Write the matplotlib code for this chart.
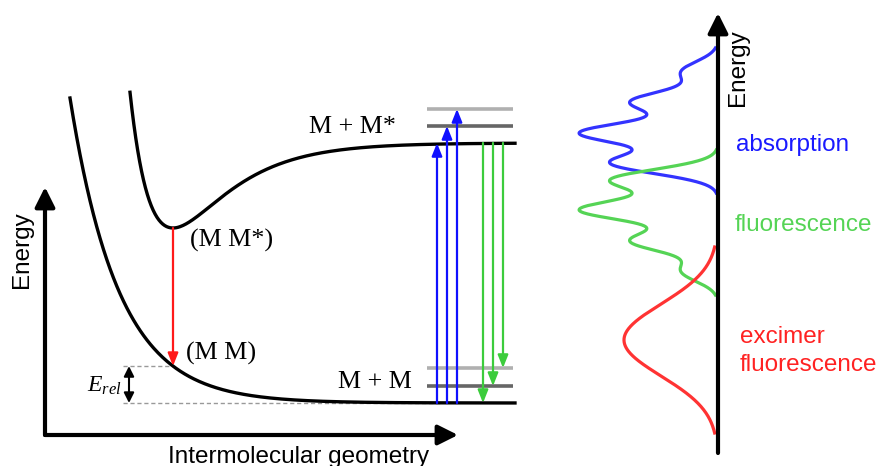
import numpy as np
import matplotlib
matplotlib.use("Agg")
import matplotlib.pyplot as plt

plt.rcParams['mathtext.fontset'] = 'custom'
plt.rcParams['mathtext.it'] = 'Liberation Serif:italic'
plt.rcParams['mathtext.rm'] = 'Liberation Serif'

SANS = 'Liberation Sans'
SERIF = 'Liberation Serif'

# --- potential curves (schematic units = pixels of the drawing, y grows downwards)
ground_asym = 403          # M + M dissociation level
ground_amp = 305           # repulsive wall height at x = 70
ground_decay = 0.0205
ground_x = [70, 515]

exc_asym = 143             # M + M* dissociation level
exc_depth = 85             # excimer binding depth
exc_width = 0.019          # Morse a
exc_rmin = 173             # excimer equilibrium geometry
exc_x = [130, 515]

mm_point = 173             # (M M) geometry under excimer minimum

# vibrational levels on the right
lvl_x = [427, 513]
ground_levels = [386, 368]
exc_levels = [126, 109]
lvl_colors = ['#666666', '#b0b0b0']

absorb_x = [437, 447, 457]
absorb_to = [143, 126, 109]
fluo_x = [483, 493, 503]
fluo_to = [403, 386, 368]

# --- spectra (position along energy axis, band height)
spec_base = 718
abs_peaks = [72, 102, 133, 163]
abs_amps = [36, 86, 136, 106]
abs_range = [48, 193]
fl_peaks = [271, 241, 210, 180]
fl_amps = [36, 86, 136, 106]
fl_range = [150, 295]
band_sigma = 10.5
exc_peak = 340
exc_amp = 94
exc_sigma = 36
exc_range = [247, 433]


def ground(x):
    return ground_asym - ground_amp * np.exp(-ground_decay * (x - 70))


def excited(x):
    v = exc_depth * (1 - np.exp(-exc_width * (x - exc_rmin))) ** 2 - exc_depth
    return exc_asym - v


def bands(y, peaks, amps, sig):
    h = np.zeros_like(y)
    for p, a in zip(peaks, amps):
        h += a * np.exp(-(y - p) ** 2 / (2 * sig ** 2))
    return h


fig = plt.figure(figsize=(8.79, 4.66), dpi=100)
ax = fig.add_axes([0, 0, 1, 1])
ax.set_xlim(0, 879)
ax.set_ylim(466, 0)
ax.axis('off')


def arrow(x0, y0, x1, y1, color, lw=1.6, ms=14, style='-|>,head_length=0.55,head_width=0.22'):
    ax.annotate('', xy=(x1, y1), xytext=(x0, y0),
                arrowprops=dict(arrowstyle=style, color=color, lw=lw,
                                shrinkA=0, shrinkB=0, mutation_scale=ms))


# axes of the left panel
arrow(45, 435, 45, 187, 'k', lw=3, ms=20, style='-|>,head_length=0.6,head_width=0.3')
arrow(45, 435, 458, 435, 'k', lw=3, ms=20, style='-|>,head_length=0.6,head_width=0.3')
ax.text(22, 250, 'Energy', rotation=90, ha='center', va='center', family=SANS, fontsize=17.5)
ax.text(299, 463, 'Intermolecular geometry', ha='center', va='baseline', family=SANS, fontsize=17.5)

# dashed guides for E_rel
y_mm = ground(mm_point)
ax.plot([123, mm_point], [y_mm, y_mm], ls='--', color='#999999', lw=1, dashes=(3, 2))
ax.plot([123, 440], [ground_asym, ground_asym], ls='--', color='#999999', lw=1, dashes=(3, 2))
arrow(129, y_mm, 129, ground_asym, 'k', lw=1.5, ms=10, style='<|-|>,head_length=0.6,head_width=0.3')
ax.text(87, 385, r'$E_{rel}$', ha='left', va='center', fontsize=17)

# vibrational levels
for yl, c in zip(ground_levels, lvl_colors):
    ax.plot(lvl_x, [yl, yl], color=c, lw=2.6, solid_capstyle='butt')
for yl, c in zip(exc_levels, lvl_colors):
    ax.plot(lvl_x, [yl, yl], color=c, lw=2.6, solid_capstyle='butt')

# potential curves
xg = np.linspace(ground_x[0], ground_x[1], 400)
ax.plot(xg, ground(xg), color='k', lw=2.4)
xe = np.linspace(exc_x[0], exc_x[1], 400)
ax.plot(xe, excited(xe), color='k', lw=2.4)

# excimer emission
arrow(exc_rmin, excited(exc_rmin), exc_rmin, y_mm, '#ff1a1a')

for x, yt in zip(absorb_x, absorb_to):
    arrow(x, ground_asym, x, yt, '#1010ff')
for x, yt in zip(fluo_x, fluo_to):
    arrow(x, exc_asym, x, yt, '#3ccc3c')

ax.text(190, 240, '(M M*)', ha='left', va='center', family=SERIF, fontsize=18.7)
ax.text(186, 353, '(M M)', ha='left', va='center', family=SERIF, fontsize=18.7)
ax.text(309, 127, 'M + M*', ha='left', va='center', family=SERIF, fontsize=18.7)
ax.text(338, 382, 'M + M', ha='left', va='center', family=SERIF, fontsize=18.7)

# spectra panel
arrow(spec_base, 453, spec_base, 13, 'k', lw=3, ms=20, style='-|>,head_length=0.6,head_width=0.3')
ax.text(738, 68, 'Energy', rotation=90, ha='center', va='center', family=SANS, fontsize=17.5)

ya = np.linspace(abs_range[0], abs_range[1], 400)
ax.plot(spec_base - bands(ya, abs_peaks, abs_amps, band_sigma), ya, color='#3333ff', lw=2.3)
yf = np.linspace(fl_range[0], fl_range[1], 400)
ax.plot(spec_base - bands(yf, fl_peaks, fl_amps, band_sigma), yf, color='#55d455', lw=2.3)
yx = np.linspace(exc_range[0], exc_range[1], 400)
ax.plot(spec_base - bands(yx, [exc_peak], [exc_amp], exc_sigma), yx, color='#ff3333', lw=2.3)

ax.text(736, 145, 'absorption', ha='left', va='center', family=SANS, fontsize=17.5, color='#1a1aff')
ax.text(735, 225, 'fluorescence', ha='left', va='center', family=SANS, fontsize=17.5, color='#55d455')
ax.text(740, 337, 'excimer', ha='left', va='center', family=SANS, fontsize=17.5, color='#ff2222')
ax.text(740, 365, 'fluorescence', ha='left', va='center', family=SANS, fontsize=17.5, color='#ff2222')

fig.savefig('out.png', dpi=100)
